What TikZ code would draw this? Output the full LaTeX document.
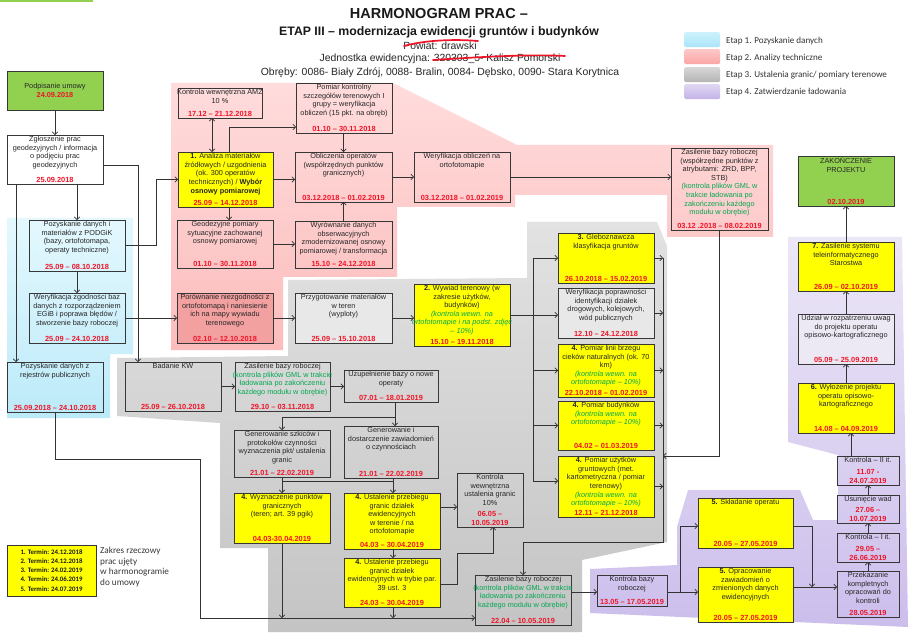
\documentclass[tikz,border=0pt]{standalone}
\usepackage{fontspec}
\setmainfont{Liberation Sans}
\newfontfamily\carl{Carlito}
\usetikzlibrary{arrows.meta,calc}
\definecolor{grn}{RGB}{0,168,80}
\definecolor{rd}{RGB}{240,20,40}
\definecolor{bord}{RGB}{55,55,55}
\definecolor{ylw}{RGB}{255,255,0}
\definecolor{grf}{RGB}{146,208,80}
\definecolor{porf}{RGB}{243,160,160}
\definecolor{lgr}{RGB}{232,232,232}
\definecolor{udzf}{RGB}{236,233,245}
\newcommand{\grt}[1]{\textcolor{grn}{#1}}
\newcommand{\grti}[1]{\textcolor{grn}{\itshape #1}}
\newcommand{\mybox}[8]{%
  \node[#2, anchor=north west, minimum width={#5-#3}, minimum height={#6-#4}] (#1) at (#3,#4) {};
  \node[txt, anchor=north] (#1-t) at ([yshift=-1.3pt]#1.north) {#7};
  \node[dt, anchor=south] (#1-d) at ([yshift=1.2pt]#1.south) {#8};
}
\begin{document}
\begin{tikzpicture}[x=1pt,y=-1pt,
  box/.style={draw=bord, line width=0.8pt, inner sep=0pt, outer sep=0pt},
  ybox/.style={box, fill=ylw},
  txt/.style={font=\fontsize{7.3}{8.55}\selectfont, align=center, inner sep=0pt, text=black!85},
  dt/.style={font=\fontsize{7.4}{8.55}\selectfont\bfseries, align=center, inner sep=0pt, text=rd},
  arr/.style={draw=black!80, line width=0.7pt, -{Straight Barb[length=2.6pt,width=5.5pt]}},
  ln/.style={draw=black!80, line width=0.7pt},
  lgt/.style={anchor=west, font={\carl\fontsize{9.1}{10}\selectfont}, text=black!80, inner sep=0pt}
]
\useasboundingbox (0,0) rectangle (921,636);
\fill[white] (0,0) rectangle (921,636);
\fill[grf] (0,0) rectangle (93,2.2);

% ---------- regions ----------
\shade[top color={rgb,255:red,228;green,248;blue,254}, bottom color={rgb,255:red,188;green,234;blue,249}]
  (7,218) -- (133,218) -- (133,354) -- (110,354) -- (110,418) -- (7,418) -- cycle;
\shade[top color={rgb,255:red,255;green,220;blue,220}, bottom color={rgb,255:red,252;green,188;blue,188}]
  (171,83) -- (393,83) -- (517,145) -- (773,145) -- (773,237) -- (667,237) -- (667,195)
  -- (515,195) -- (515,207) -- (397,207) -- (397,277) -- (283,277) -- (283,350) -- (171,350) -- cycle;
\shade[top color={rgb,255:red,226;green,226;blue,226}, bottom color={rgb,255:red,196;green,196;blue,196}]
  (117,358) -- (288,356) -- (288,280) -- (527,278) -- (527,222) -- (657,222) -- (667,246)
  -- (667,542) -- (582,560) -- (582,632) -- (268,632) -- (268,548) -- (220,548) -- (220,423)
  -- (117,416) -- cycle;
\shade[top color={rgb,255:red,236;green,231;blue,247}, bottom color={rgb,255:red,204;green,190;blue,236}]
  (590,569) -- (677,565) -- (677,527) -- (688,490) -- (800,490) -- (813,520) -- (838,520)
  -- (838,455) -- (788,442) -- (788,237) -- (902,237) -- (908,627) -- (590,613) -- cycle;

% ---------- title ----------
\node[font=\fontsize{14.5}{16}\selectfont\bfseries, text=black!90] (t1) at (439,14) {HARMONOGRAM PRAC –};
\node[font=\fontsize{12.3}{14}\selectfont\bfseries, text=black!90] (t2) at (439,32) {ETAP III – modernizacja ewidencji gruntów i budynków};
\node[font=\fontsize{10.4}{12}\selectfont, text=black!85] (t3) at (440,45.5) {Powiat: drawski};
\node[font=\fontsize{10.4}{12}\selectfont, text=black!85] (t4) at (440,59) {Jednostka ewidencyjna: 320303\_5- Kalisz Pomorski};
\node[font=\fontsize{10.4}{12}\selectfont, text=black!85] (t5) at (440,72.5) {Obręby: 0086- Biały Zdrój, 0088- Bralin, 0084- Dębsko, 0090- Stara Korytnica};
\draw[rd, line width=1.7pt, line cap=round] (404,46) .. controls (425,40) and (455,39) .. (478,41);
\draw[rd, line width=1.7pt, line cap=round] (433,60) .. controls (480,57) and (530,54) .. (565,56);

% ---------- legend ----------
\node[anchor=north west, minimum width=36, minimum height=15, rounded corners=1.5pt, inner sep=0pt,
  top color={rgb,255:red,205;green,242;blue,252}, bottom color={rgb,255:red,170;green,228;blue,248}] (sw1) at (684,32) {};
\node[anchor=north west, minimum width=36, minimum height=15, rounded corners=1.5pt, inner sep=0pt,
  top color={rgb,255:red,255;green,200;blue,200}, bottom color={rgb,255:red,250;green,165;blue,165}] (sw2) at (684,49) {};
\node[anchor=north west, minimum width=36, minimum height=15, rounded corners=1.5pt, inner sep=0pt,
  top color={rgb,255:red,215;green,215;blue,215}, bottom color={rgb,255:red,180;green,180;blue,180}] (sw3) at (684,67) {};
\node[anchor=north west, minimum width=36, minimum height=15, rounded corners=1.5pt, inner sep=0pt,
  top color={rgb,255:red,225;green,215;blue,242}, bottom color={rgb,255:red,195;green,178;blue,232}] (sw4) at (684,84) {};
\node[lgt] (lg1) at (726,41) {Etap 1. Pozyskanie danych};
\node[lgt] (lg2) at (726,58) {Etap 2. Analizy techniczne};
\node[lgt] (lg3) at (726,75) {Etap 3. Ustalenia granic/ pomiary terenowe};
\node[lgt] (lg4) at (726,92.5) {Etap 4. Zatwierdzanie ładowania};

% ---------- Etap 1 ----------
\node[box, fill=grf, anchor=north west, minimum width=96, minimum height=39] (podp) at (7,71) {};
\node[txt] (podp-t) at (podp.center) {Podpisanie umowy\\\textcolor{rd}{\bfseries 24.09.2018}};
\mybox{zgl}{box, fill=white}{7}{135}{103}{184}{Zgłoszenie prac\\geodezyjnych / informacja\\o podjęciu prac\\geodezyjnych}{25.09.2018}
\mybox{pod}{box}{29}{220}{125}{271}{Pozyskanie danych i\\materiałów z PODGiK\\(bazy, ortofotomapa,\\operaty techniczne)}{25.09 – 08.10.2018}
\mybox{wer}{box}{29}{293}{125}{343}{Weryfikacja zgodności baz\\danych z rozporządzeniem\\EGiB i poprawa błędów /\\stworzenie bazy roboczej}{25.09 – 24.10.2018}
\mybox{rej}{box}{7}{362}{103}{412}{Pozyskanie danych z\\rejestrów publicznych}{25.09.2018 – 24.10.2018}

% ---------- Etap 2 ----------
\mybox{kamz}{box}{178}{88}{262}{118}{Kontrola wewnętrzna AMZ\\10 \%}{17.12 – 21.12.2018}
\mybox{pkon}{box}{296}{83}{392}{133}{Pomiar kontrolny\\szczegółów terenowych I\\grupy = weryfikacja\\obliczeń (15 pkt. na obręb)}{01.10 – 30.11.2018}
\mybox{ana}{ybox}{178}{152}{273}{207}{\textbf{1.} Analiza materiałów\\źródłowych / uzgodnienia\\(ok. 300 operatów\\technicznych) / \textbf{Wybór}\\\textbf{osnowy pomiarowej}}{25.09 – 14.12.2018}
\mybox{obl}{box}{295}{152}{392}{202}{Obliczenia operatów\\(współrzędnych punktów\\granicznych)}{03.12.2018 – 01.02.2019}
\mybox{wob}{box}{414}{152}{510}{202}{Weryfikacja obliczeń na\\ortofotomapie}{03.12.2018 – 01.02.2019}
\mybox{zbp}{box}{671}{148}{768}{230}{Zasilenie bazy roboczej\\(współrzędne punktów z\\atrybutami: ZRD, BPP,\\STB)\\\grt{(kontrola plików GML w}\\\grt{trakcie ładowania po}\\\grt{zakończeniu każdego}\\\grt{modułu w obrębie)}}{03.12 .2018 – 08.02.2019}
\mybox{geo}{box}{177}{220}{273}{268}{Geodezyjne pomiary\\sytuacyjne zachowanej\\osnowy pomiarowej}{01.10 – 30.11.2018}
\mybox{wyr}{box}{295}{221}{392}{268}{Wyrównanie danych\\obserwacyjnych\\zmodernizowanej osnowy\\pomiarowej / transformacja}{15.10 – 24.12.2018}
\mybox{por}{box, fill=porf}{177}{293}{273}{343}{Porównanie niezgodności z\\ortofotomapą i naniesienie\\ich na mapy wywiadu\\terenowego}{02.10 – 12.10.2018}

% ---------- Etap 3 ----------
\mybox{prz}{box, fill=lgr}{295}{293}{392}{343}{Przygotowanie materiałów\\w teren\\(wyploty)}{25.09 – 15.10.2018}
\mybox{wyw}{ybox}{414}{284}{510}{346}{\textbf{2.} Wywiad terenowy (w\\zakresie użytków,\\budynków)\\\grti{(kontrola wewn. na}\\\grti{ortofotomapie i na podst. zdjęć}\\\grti{– 10\%)}}{15.10 – 19.11.2018}
\mybox{gleb}{ybox}{558}{233}{654}{283}{\textbf{3.} Gleboznawcza\\klasyfikacja gruntów}{26.10.2018 – 15.02.2019}
\mybox{wpop}{box, fill=lgr}{558}{288}{654}{338}{Weryfikacja poprawności\\identyfikacji działek\\drogowych, kolejowych,\\wód publicznych}{12.10 – 24.12.2018}
\mybox{plin}{ybox}{558}{344}{654}{397}{\textbf{4.} Pomiar linii brzegu\\cieków naturalnych (ok. 70\\km)\\\grti{(kontrola wewn. na}\\\grti{ortofotomapie – 10\%)}}{22.10.2018 – 01.02.2019}
\mybox{pbud}{ybox}{558}{401}{654}{450}{\textbf{4.} Pomiar budynków\\\grti{(kontrola wewn. na}\\\grti{ortofotomapie – 10\%)}}{04.02 – 01.03.2019}
\mybox{puz}{ybox}{558}{456}{654}{517}{\textbf{4.} Pomiar użytków\\gruntowych (met.\\kartometryczna / pomiar\\terenowy)\\\grti{(kontrola wewn. na}\\\grti{ortofotomapie – 10\%)}}{12.11 – 21.12.2018}
\mybox{bkw}{box}{125}{362}{221}{411}{Badanie KW}{25.09 – 26.10.2018}
\mybox{zbr1}{box}{235}{362}{330}{411}{Zasilenie bazy roboczej\\\grt{(kontrola plików GML w trakcie}\\\grt{ładowania po zakończeniu}\\\grt{każdego modułu w obrębie)}}{29.10 – 03.11.2018}
\mybox{uzu}{box}{344}{370}{438}{402}{Uzupełnienie bazy o nowe\\operaty}{07.01 – 18.01.2019}
\mybox{gsz}{box}{234}{430}{330}{477}{Generowanie szkiców i\\protokołów czynności\\wyznaczenia pkt/ ustalenia\\granic}{21.01 – 22.02.2019}
\mybox{gdo}{box}{344}{426}{438}{478}{Generowanie i\\dostarczenie zawiadomień\\o czynnościach}{21.01 – 22.02.2019}
\mybox{wyz}{ybox}{234}{493}{330}{543}{\textbf{4.} Wyznaczenie punktów\\granicznych\\(teren; art. 39 pgik)}{04.03-30.04.2019}
\mybox{ust1}{ybox}{344}{493}{440}{549}{\textbf{4.} Ustalenie przebiegu\\granic działek\\ewidencyjnych\\w terenie / na\\ortofotomapie}{04.03 – 30.04.2019}
\mybox{ust2}{ybox}{344}{558}{440}{607}{\textbf{4.} Ustalenie przebiegu\\granic działek\\ewidencyjnych w trybie par.\\39 ust. 3}{24.03 – 30.04.2019}
\mybox{kwu}{box}{457}{473}{523}{527}{Kontrola\\wewnętrzna\\ustalenia granic\\10\%}{06.05 –\\10.05.2019}
\mybox{zbr2}{box}{475}{575}{571}{625}{Zasilenie bazy roboczej\\\grt{(kontrola plików GML w trakcie}\\\grt{ładowania po zakończeniu}\\\grt{każdego modułu w obrębie)}}{22.04 – 10.05.2019}

% ---------- Etap 4 ----------
\mybox{kbr}{box}{597}{575}{667}{606}{Kontrola bazy\\roboczej}{13.05 – 17.05.2019}
\mybox{skl}{ybox}{698}{498}{793}{548}{\textbf{5.} Składanie operatu}{20.05 – 27.05.2019}
\mybox{opr}{ybox}{698}{567}{793}{622}{\textbf{5.} Opracowanie\\zawiadomień o\\zmienionych danych\\ewidencyjnych}{20.05 – 27.05.2019}
\mybox{prze}{box}{837}{571}{899}{617}{Przekazanie\\kompletnych\\opracowań do\\kontroli}{28.05.2019}
\mybox{k1}{box}{837}{533}{899}{562}{Kontrola – I it.}{29.05 –\\26.06.2019}
\mybox{usu}{box}{837}{495}{899}{523}{Usunięcie wad}{27.06 –\\10.07.2019}
\mybox{k2}{box}{837}{456}{899}{485}{Kontrola – II it.}{11.07 -\\24.07.2019}
\mybox{wyl}{ybox}{798}{383}{894}{433}{\textbf{6.} Wyłożenie projektu\\operatu opisowo-\\kartograficznego}{14.08 – 04.09.2019}
\mybox{udz}{box, fill=udzf}{798}{314}{894}{364}{Udział w rozpatrzeniu uwag\\do projektu operatu\\opisowo-kartograficznego}{05.09 – 25.09.2019}
\mybox{sys}{ybox}{798}{242}{894}{291}{\textbf{7.} Zasilenie systemu\\teleinformatycznego\\Starostwa}{26.09 – 02.10.2019}
\mybox{zak}{box, fill=grf}{798}{156}{894}{206}{ZAKOŃCZENIE\\PROJEKTU}{02.10.2019}

% ---------- bottom-left legend ----------
\node[box, fill=ylw, anchor=north west, minimum width=89, minimum height=51] (lgy) at (7,545) {};
\node[font={\carl\fontsize{6.8}{9.1}\selectfont\bfseries}, align=left, inner sep=0pt, text=black!90] (lgy-t) at (lgy.center) {1. Termin: 24.12.2018\\2. Termin: 24.12.2018\\3. Termin: 24.02.2019\\4. Termin: 24.06.2019\\5. Termin: 24.07.2019};
\node[anchor=north west, font={\carl\fontsize{9.2}{10.7}\selectfont}, align=left, inner sep=0pt, text=black!78] (zakr) at (100,547) {Zakres rzeczowy\\prac ujęty\\w harmonogramie\\do umowy};

% ---------- helper coordinates ----------
\coordinate (xA) at (16,0);
\coordinate (xB) at (138,0);
\coordinate (xC) at (156,0);
\coordinate (xD) at (200,0);
\coordinate (xE) at (212,0);
\coordinate (xF) at (229,0);
\coordinate (xL) at (533,0);
\coordinate (xR) at (663,0);
\coordinate (xM) at (395,0);
\coordinate (xN) at (393,0);
\coordinate (xP) at (457,0);
\coordinate (xQ) at (493,0);
\coordinate (xS) at (680,0);
\coordinate (xT) at (812,0);
\coordinate (xU) at (851,0);
\coordinate (yA) at (0,165);
\coordinate (yB) at (0,245);
\coordinate (yC) at (0,459);
\coordinate (yD) at (0,618);
\coordinate (yE) at (0,127);
\coordinate (yF) at (0,481);
\coordinate (yG) at (0,542);
\coordinate (yH) at (0,456);
\coordinate (yJ) at (0,417);
\coordinate (yK) at (0,481);
\coordinate (yL) at (0,507);
\coordinate (yM) at (0,584);
\coordinate (yN) at (0,553);
\coordinate (yO) at (0,592);
\coordinate (yP) at (0,526);
\coordinate (yQ) at (0,587);

% ---------- connectors: Etap 1 ----------
\draw[arr] (podp) -- (zgl);
\draw[arr] (zgl.south -| xA) -- (rej.north -| xA);
\draw[arr] (zgl.south -| pod.north) -- (pod.north);
\draw[arr] (zgl.east |- yA) -| (bkw.north -| xB);
\draw[arr] (pod.east |- yB) -| (xC |- ana.west) -- (ana.west);
\draw[arr] (pod) -- (wer);
\draw[arr] (wer) -- (por);
\draw[arr] (rej.south) |- (xD |- yC) |- (zbr2.west |- yD);

% ---------- connectors: Etap 2 ----------
\draw[arr, {Straight Barb[length=2.6pt,width=5.5pt]}-{Straight Barb[length=2.6pt,width=5.5pt]}] (kamz.south -| xE) -- (ana.north -| xE);
\draw[arr] (ana.north -| xF) |- (pkon.west |- yE);
\draw[arr] (ana.east) -- (ana.east -| obl.west);
\draw[arr] (ana.south -| xF) -- (geo.north -| xF);
\draw[arr] (pkon.south -| obl.north) -- (obl.north);
\draw[arr] (obl.east) -- (obl.east -| wob.west);
\draw[arr] (wob.east) -- (wob.east -| zbp.west);
\draw[arr] (geo.east) -- (geo.east -| wyr.west);
\draw[arr] (wyr.north) -- (obl.south);
\draw[arr] (por.east) -- (por.east -| prz.west);
\draw[arr] (prz.east) -- (prz.east -| wyw.west);

% ---------- connectors: Etap 3 ----------
\draw[arr] (wyw.east) -- (wyw.east -| wpop.west);
\draw[ln] (xL |- gleb.west) -- (xL |- yF);
\draw[arr] (xL |- gleb.west) -- (gleb.west);
\draw[arr] (xL |- plin.west) -- (plin.west);
\draw[arr] (xL |- pbud.west) -- (pbud.west);
\draw[arr] (xL |- yF) -- (puz.west |- yF);
\draw[arr] (gleb.east) -- (gleb.east -| xR);
\draw[arr] (wpop.east) -- (wpop.east -| xR);
\draw[arr] (plin.east) -- (plin.east -| xR);
\draw[arr] (pbud.east) -- (pbud.east -| xR);
\draw[arr] (puz.east) -- (puz.east -| xR);
\draw[arr] (xR |- gleb.east) -- (xR |- yG) -| (zbr2.north);
\draw[arr] (zbp.south) |- (xR |- yH);
\draw[arr] (bkw) -- (zbr1);
\draw[arr] (zbr1.east) -- (zbr1.east -| uzu.west);
\draw[arr] (uzu.south -| xM) |- (gsz.north |- yJ) -- (gsz.north);
\draw[arr] (xM |- yJ) -- (gdo.north -| xM);
\draw[ln] (gsz.south |- yK) -- (xN |- yK);
\draw[ln] (gdo.south -| xN) -- (xN |- yK);
\draw[arr] (gsz.south) -- (wyz.north);
\draw[arr] (xN |- yK) -- (ust1.north -| xN);
\draw[arr] (ust1.east |- yL) -- (kwu.west |- yL);
\draw[arr] (ust1.south -| xN) -- (ust2.north -| xN);
\draw[arr] (ust2.east |- yM) -| (xP |- yN) -| (kwu.south -| xQ);
\draw[arr] (wyz.south) -- (wyz.south |- yD);
\draw[arr] (ust2.south -| xN) -- (xN |- yD);
\draw[arr] (zbr2.east |- yO) -- (kbr.west |- yO);

% ---------- connectors: Etap 4 ----------
\draw[ln] (kbr.east |- yO) -- (xS |- yO);
\draw[arr] (xS |- yO) |- (skl.west |- yP);
\draw[arr] (xS |- yO) -- (opr.west |- yO);
\draw[arr] (skl.east |- yP) -| (xT |- yQ);
\draw[arr] (opr.east |- yQ) -- (prze.west |- yQ);
\draw[arr] (prze) -- (k1);
\draw[arr] (k1) -- (usu);
\draw[arr] (usu) -- (k2);
\draw[arr] (k2.north -| xU) -- (wyl.south -| xU);
\draw[arr] (wyl) -- (udz);
\draw[arr] (udz) -- (sys);
\draw[arr] (sys) -- (zak);
\end{tikzpicture}
\end{document}
